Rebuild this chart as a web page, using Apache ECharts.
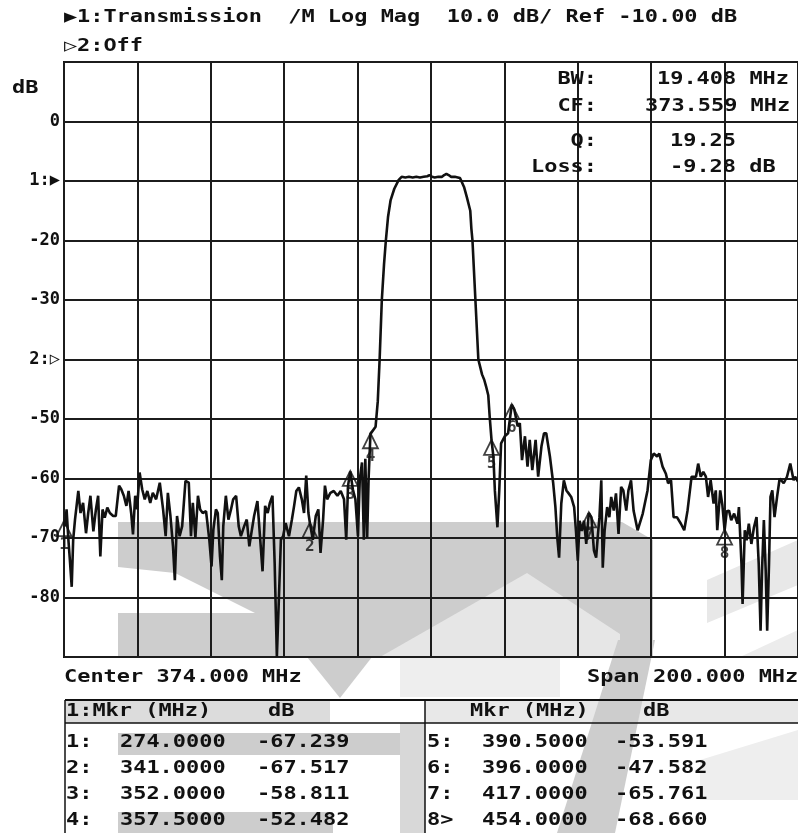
<!DOCTYPE html>
<html>
<head>
<meta charset="utf-8">
<style>html,body{margin:0;padding:0;background:#fff}#chart{width:798px;height:833px}</style>
<script src="https://cdn.jsdelivr.net/npm/echarts@6/dist/echarts.min.js"></script>
</head>
<body>
<div id="chart"></div>
<script>
// trace 1, transmission (MHz, dB)
var CENTER = 374;
var freq = [
    274.0, 274.3, 274.7, 275.2, 275.6, 276.1, 276.5, 277.0, 277.9, 278.5, 279.2, 280.0, 280.6, 281.2, 282.0, 282.7,
    283.3, 283.9, 284.5, 285.1, 285.8, 286.5, 287.4, 288.1, 289.0, 289.6, 290.3, 291.0, 291.6, 292.3, 292.8, 293.4,
    293.9, 294.6, 295.3, 296.0, 296.7, 297.5, 298.2, 299.1, 300.1, 301.0, 301.7, 302.3, 303.0, 303.7, 304.2, 304.8,
    305.5, 306.2, 307.1, 308.0, 308.6, 309.1, 309.8, 310.5, 311.1, 311.8, 312.7, 313.6, 314.2, 314.7, 315.4, 315.9,
    316.5, 317.0, 317.4, 318.1, 318.8, 319.5, 320.1, 320.9, 321.6, 322.2, 323.1, 323.8, 324.5, 325.2, 325.8, 326.7,
    327.4, 328.1, 328.8, 329.5, 330.1, 330.8, 331.4, 332.0, 332.6, 333.1, 333.7, 334.4, 335.3, 336.1, 336.7, 337.3,
    338.0, 338.8, 339.4, 340.0, 340.6, 341.0, 341.8, 342.6, 343.3, 343.9, 344.6, 345.1, 345.7, 346.6, 347.5, 348.5,
    349.4, 350.3, 350.9, 351.4, 352.0, 352.7, 353.4, 354.1, 354.6, 355.2, 355.7, 356.1, 356.6, 357.0, 357.5, 358.9,
    359.5, 360.0, 360.6, 361.2, 361.7, 362.3, 363.0, 364.0, 365.2, 366.0, 367.0, 368.0, 369.0, 370.0, 371.0, 372.0,
    373.0, 373.6, 374.3, 375.0, 376.0, 377.0, 377.6, 378.2, 378.8, 379.5, 380.5, 381.3, 381.9, 382.3, 383.0, 383.8,
    384.7, 385.0, 385.3, 385.7, 386.1, 386.5, 386.9, 387.5, 387.9, 388.5, 389.0, 389.6, 390.0, 390.5, 391.0, 391.4,
    392.1, 392.6, 393.1, 394.1, 395.0, 396.0, 396.7, 397.6, 398.2, 398.8, 399.6, 400.3, 400.9, 401.6, 402.5, 403.2,
    404.1, 404.8, 405.4, 406.4, 407.3, 407.9, 408.4, 408.9, 409.5, 410.2, 410.9, 411.5, 412.2, 413.0, 413.5, 414.0,
    414.5, 415.1, 415.7, 416.3, 417.0, 417.7, 418.4, 419.0, 419.5, 419.9, 420.4, 420.8, 421.3, 422.0, 422.6, 423.1,
    423.8, 424.4, 425.1, 425.8, 426.4, 427.2, 427.8, 428.5, 429.2, 430.3, 431.7, 433.0, 433.9, 434.7, 435.6, 436.2,
    437.1, 438.0, 438.6, 439.4, 440.1, 441.0, 442.1, 443.0, 443.9, 445.0, 446.2, 446.8, 447.5, 448.2, 448.9, 449.5,
    450.2, 451.0, 451.6, 452.0, 452.8, 453.4, 454.0, 454.6, 455.2, 455.8, 456.6, 457.5, 457.9, 458.6, 458.9, 459.5,
    460.0, 460.6, 461.3, 462.0, 462.7, 463.3, 463.8, 464.2, 464.7, 465.2, 465.6, 466.1, 466.5, 467.0, 467.6, 468.3,
    469.0, 470.1, 471.0, 471.9, 472.8, 473.2, 474.0
];
var level = [
    -67.2, -68.0, -65.2, -70.3, -73.7, -78.2, -70.3, -66.9, -62.1, -65.8, -64.1, -69.2, -65.8, -62.9, -68.9, -65.2,
    -62.9, -73.1, -65.2, -66.6, -64.9, -65.8, -66.3, -66.3, -61.2, -61.8, -62.9, -64.6, -62.1, -65.8, -69.4, -62.9,
    -65.2, -59.0, -61.8, -63.5, -62.1, -64.1, -62.4, -63.5, -60.7, -65.2, -69.7, -62.4, -66.3, -71.4, -77.1, -66.3,
    -69.7, -68.0, -60.4, -60.7, -69.7, -64.1, -70.0, -62.9, -65.2, -65.8, -65.5, -70.3, -74.8, -68.6, -65.2, -65.8,
    -73.1, -77.1, -68.0, -62.9, -66.9, -65.2, -63.5, -62.9, -68.0, -69.7, -68.0, -66.9, -71.4, -68.6, -66.3, -63.8,
    -69.7, -75.6, -64.6, -65.8, -64.1, -62.9, -74.2, -90.0, -79.3, -70.3, -69.7, -67.5, -69.7, -66.9, -64.6, -62.1,
    -61.5, -63.5, -65.8, -59.5, -65.8, -67.5, -70.3, -66.3, -65.2, -72.5, -66.9, -61.2, -63.5, -62.4, -62.1, -62.9,
    -62.1, -63.5, -70.3, -61.2, -58.8, -61.8, -63.5, -69.7, -60.1, -57.3, -70.3, -56.7, -70.0, -60.0, -52.5, -51.3,
    -47.0, -40.0, -30.0, -24.0, -20.0, -16.0, -13.2, -11.3, -9.8, -9.3, -9.4, -9.3, -9.4, -9.3, -9.4, -9.3,
    -9.2, -9.0, -9.3, -9.4, -9.3, -9.3, -9.0, -8.8, -9.0, -9.3, -9.3, -9.4, -9.5, -9.8, -11.0, -12.8,
    -15.0, -18.0, -20.0, -25.0, -30.0, -35.0, -40.0, -41.5, -42.5, -43.4, -44.5, -46.0, -49.7, -53.6, -56.3, -62.0,
    -68.2, -62.0, -54.1, -52.9, -52.4, -47.6, -48.4, -51.2, -50.7, -56.9, -52.9, -58.0, -53.5, -58.6, -53.5, -59.7,
    -54.6, -52.4, -52.4, -56.3, -60.8, -64.8, -69.9, -73.3, -64.2, -60.3, -62.0, -62.5, -63.1, -64.8, -68.8, -73.8,
    -67.1, -68.8, -67.1, -71.0, -65.8, -66.5, -72.1, -73.3, -69.3, -66.5, -60.3, -75.0, -68.8, -64.8, -66.5, -63.1,
    -65.4, -62.5, -69.3, -61.4, -62.0, -65.4, -62.0, -60.3, -65.4, -68.7, -65.9, -62.0, -56.9, -55.8, -56.3, -55.8,
    -58.0, -59.2, -60.8, -60.3, -66.5, -66.5, -67.6, -68.7, -65.4, -59.7, -59.7, -57.5, -59.7, -58.9, -59.7, -63.1,
    -60.3, -64.2, -62.0, -68.7, -62.0, -64.5, -68.7, -65.5, -65.4, -67.0, -65.9, -67.6, -64.8, -74.4, -81.1, -68.7,
    -70.4, -67.6, -71.0, -68.2, -66.5, -74.4, -85.6, -75.5, -67.0, -75.5, -85.6, -74.4, -63.1, -62.0, -66.5, -63.1,
    -60.0, -60.8, -59.7, -57.5, -60.3, -59.7, -60.5
];

// marker table
var mkrName = ['1', '2', '3', '4', '5', '6', '7', '8'];
var mkrFreq = [274.0, 341.0, 352.0, 357.5, 390.5, 396.0, 417.0, 454.0];
var mkrDb = [-67.239, -67.517, -58.811, -52.482, -53.591, -47.582, -65.761, -68.660];

// y tick labels from +10 dB (top) down to -90 dB
var yLabels = ['', '0', '1:\u25B6', '-20', '-30', '2:\u25B7', '-50', '-60', '-70', '-80', ''];

var MONO = '"DejaVu Sans Mono", "Liberation Mono", monospace';
var FONT = 'bold 17px ' + MONO;
var SX = 1.29;
var INK = '#111';

var traceData = [];
for (var i = 0; i < freq.length; i++) {
    traceData.push([freq[i] - CENTER, level[i]]);
}
var mkrData = [];
for (var j = 0; j < mkrFreq.length; j++) {
    mkrData.push({name: mkrName[j], value: [mkrFreq[j] - CENTER, mkrDb[j]]});
}

function txt(s, x, y, align) {
    return {
        type: 'text', x: x, y: y, scaleX: SX, z: 100,
        style: {text: s, font: FONT, fill: INK, textAlign: align || 'left', align: align || 'left',
            textVerticalAlign: 'middle', verticalAlign: 'middle'}
    };
}
function poly(pts, color) {
    return {type: 'polygon', z: -10, shape: {points: pts}, style: {fill: color}, silent: true};
}
function ln(x1, y1, x2, y2, w) {
    return {type: 'line', z: 90, shape: {x1: x1, y1: y1, x2: x2, y2: y2}, style: {stroke: INK, lineWidth: w || 1.5}};
}

var GRAY = '#cdcdcd';
var LIGHT = '#e6e6e6';
var els = [
    // watermark behind the screen
    poly([[118, 522], [622, 522], [653, 540], [653, 657], [118, 657]], GRAY),
    poly([[118, 567], [175, 573], [255, 613], [118, 613]], '#fff'),
    poly([[380, 657], [527, 573], [620, 634], [620, 657]], LIGHT),
    poly([[707, 580], [798, 540], [798, 585], [707, 623]], '#e8e8e8'),
    poly([[740, 657], [798, 630], [798, 657]], '#ececec'),
    poly([[307, 657], [372, 657], [340, 698]], GRAY),
    poly([[400, 657], [560, 657], [560, 697], [400, 697]], '#eeeeee'),
    poly([[65, 700], [330, 700], [330, 723], [65, 723]], '#dcdcdc'),
    poly([[425, 700], [798, 700], [798, 723], [425, 723]], '#e8e8e8'),
    poly([[118, 733], [400, 733], [400, 755], [118, 755]], GRAY),
    poly([[118, 812], [333, 812], [333, 833], [118, 833]], GRAY),
    poly([[400, 723], [425, 723], [425, 833], [400, 833]], '#d8d8d8'),
    poly([[557, 833], [615, 833], [655, 640], [618, 640]], GRAY),
    poly([[700, 760], [798, 730], [798, 800], [700, 800]], '#eeeeee'),

    // header
    txt('\u25B6', 64, 18),
    txt('1:Transmission  /M Log Mag  10.0 dB/ Ref -10.00 dB', 77, 18),
    txt('\u25B7', 64, 47),
    txt('2:Off', 77, 47),
    txt('dB', 12, 89),

    // marker statistics
    txt('BW:', 597, 80, 'right'),
    txt('19.408 MHz', 657, 80),
    txt('CF:', 597, 107, 'right'),
    txt('373.559 MHz', 645, 107),
    txt('Q:', 597, 142, 'right'),
    txt('19.25', 670, 142),
    txt('Loss:', 597, 168, 'right'),
    txt('-9.28 dB', 670, 168),

    txt('Center 374.000 MHz', 64, 678),
    txt('Span 200.000 MHz', 587, 678),

    // marker table frame
    ln(65, 700, 798, 700, 2),
    ln(65, 723, 798, 723, 1.5),
    ln(65, 700, 65, 833, 1.5),
    ln(425, 700, 425, 833, 1.5),
    txt('1:Mkr (MHz)', 66, 712),
    txt('dB', 268, 712),
    txt('Mkr (MHz)', 470, 712),
    txt('dB', 643, 712)
];
var rowY = [743, 769, 795, 821];
for (var k = 0; k < 8; k++) {
    var left = k < 4;
    var y = rowY[k % 4];
    var tag = mkrName[k] + (k === 7 ? '>' : ':');
    els.push(txt(tag, left ? 66 : 427, y));
    els.push(txt(mkrFreq[k].toFixed(4), left ? 120 : 482, y));
    els.push(txt(mkrDb[k].toFixed(3), left ? 257 : 615, y));
}

var chart = echarts.init(document.getElementById('chart'));
var option = {
    backgroundColor: '#fff',
    animation: false,
    graphic: {elements: els},
    grid: {
        left: 64, top: 62, width: 737, height: 595,
        show: true, borderColor: INK, borderWidth: 2, backgroundColor: 'transparent'
    },
    xAxis: {
        type: 'value', min: -100, max: 100, interval: 20,
        axisLine: {show: false}, axisTick: {show: false}, axisLabel: {show: false},
        splitLine: {show: true, lineStyle: {color: '#1c1c1c', width: 2}}
    },
    yAxis: {
        type: 'value', min: -90, max: 10, interval: 10,
        axisLine: {show: false}, axisTick: {show: false},
        axisLabel: {
            margin: 4, color: INK, fontFamily: MONO, fontSize: 17, fontWeight: 'bold',
            formatter: function (v) { return yLabels[Math.round((10 - v) / 10)] || ''; }
        },
        splitLine: {show: true, lineStyle: {color: '#1c1c1c', width: 2}}
    },
    series: [
        {
            name: 'Transmission', type: 'line', data: traceData, symbol: 'none',
            lineStyle: {color: INK, width: 2.6}, z: 5
        },
        {
            name: 'Markers', type: 'scatter', data: mkrData, clip: false, z: 6,
            symbol: 'triangle', symbolSize: [15, 15], symbolOffset: [0, 7],
            itemStyle: {color: 'rgba(0,0,0,0)', borderColor: INK, borderWidth: 1.8},
            label: {show: true, position: 'bottom', distance: 0, formatter: '{b}',
                color: INK, fontFamily: MONO, fontSize: 16, fontWeight: 'bold'}
        }
    ]
};
chart.setOption(option);
</script>
</body>
</html>
